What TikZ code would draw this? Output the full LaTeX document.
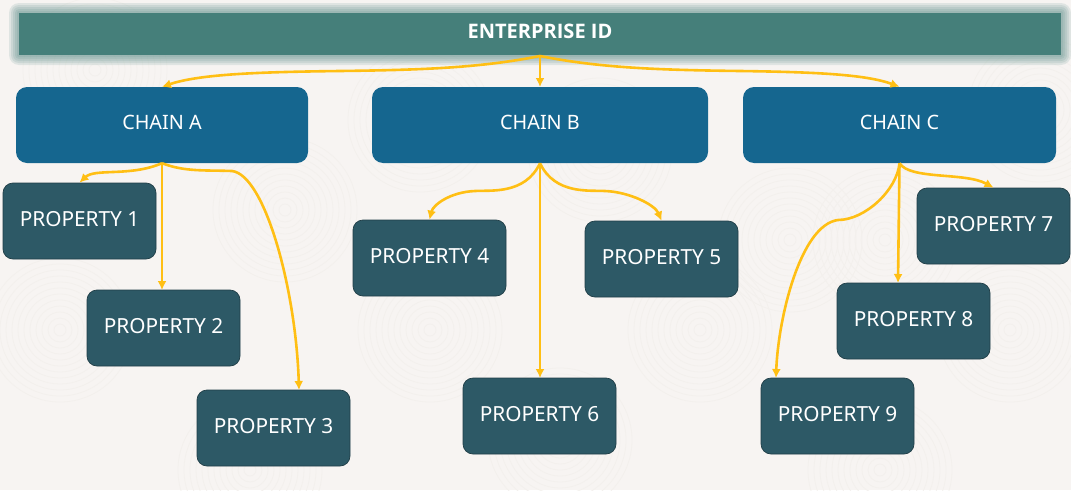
\documentclass[tikz,border=0pt]{standalone}
\usepackage{fontspec}
\setmainfont{Noto Sans}
\newfontfamily\barfont{Open Sans}
\usetikzlibrary{arrows.meta}
\definecolor{paper}{HTML}{F7F4F2}
\definecolor{swirl}{HTML}{F3F0ED}
\definecolor{bar}{HTML}{457F7A}
\definecolor{chain}{HTML}{15668F}
\definecolor{prop}{HTML}{2D5966}
\definecolor{link}{HTML}{FFBF14}
\tikzset{
    barbox/.style={fill=bar, text=white, font=\barfont\bfseries\fontsize{20}{22}\selectfont, minimum width=1042pt, minimum height=42pt, inner sep=0pt, text height=14pt, text depth=5pt},
    chainbox/.style={fill=chain, text=white, rounded corners=11pt, font=\fontsize{19.8}{22}\selectfont, minimum height=76pt, inner sep=0pt, text height=14pt, text depth=5pt},
    propbox/.style={fill=prop, draw=prop!70!black, line width=0.7pt, text=white, rounded corners=10pt, font=\fontsize{20.8}{22}\selectfont, minimum width=153pt, minimum height=76pt, inner sep=0pt, text height=14pt, text depth=3.4pt},
    linkline/.style={draw=link, line width=2.6pt, -{Latex[length=9pt,width=9pt]}},
}
\begin{document}
\begin{tikzpicture}[x=1pt,y=-1pt]
    \useasboundingbox (0,0) rectangle (1071,490);
    \fill[paper] (0,0) rectangle (1071,490);
    \begin{scope}
        \clip (0,0) rectangle (1071,490);
        \foreach \cx/\cy in {95/70,285/210,60/330,250/470,430/330,600/150,560/440,700/330,790/240,885/240,1010/330,1040/110,880/470,420/120}
            \foreach \r in {6,12,...,72}
                \draw[swirl, line width=0.8pt] (\cx,\cy) circle (\r);
    \end{scope}
    % glow behind the top bar
    \foreach \g in {10,8,6,4,2}
        \fill[bar, opacity=0.13, rounded corners=\g pt] (19-\g,13-\g) rectangle (1061+\g,55+\g);

    \node[barbox] (enterprise) at (540,34) {ENTERPRISE ID};

    \node[chainbox, minimum width=292pt] (chainA) at (162,125) {CHAIN A};
    \node[chainbox, minimum width=336pt] (chainB) at (540,125) {CHAIN B};
    \node[chainbox, minimum width=313pt] (chainC) at (899.5,125) {CHAIN C};

    \node[propbox] (prop1) at (79.5,221) {PROPERTY 1};
    \node[propbox] (prop2) at (163.5,328) {PROPERTY 2};
    \node[propbox] (prop3) at (273.5,428) {PROPERTY 3};
    \node[propbox] (prop4) at (429.5,258) {PROPERTY 4};
    \node[propbox] (prop5) at (661.5,259) {PROPERTY 5};
    \node[propbox] (prop6) at (539.5,416) {PROPERTY 6};
    \node[propbox] (prop7) at (993.5,226) {PROPERTY 7};
    \node[propbox] (prop8) at (913.5,321) {PROPERTY 8};
    \node[propbox] (prop9) at (837.5,416) {PROPERTY 9};

    % free ends of the links that miss the middle of a box
    \coordinate (top) at (540,56);
    \coordinate (endB) at (540,87);
    \coordinate (end2) at (162,290);
    \coordinate (end3) at (299,390);
    \coordinate (end6) at (540,378);
    \coordinate (end8) at (898,283);
    \coordinate (end9) at (776,378);

    \draw[linkline] (top) .. controls (480,68) and (420,70) .. (340,71) .. controls (260,72) and (200,74) .. (chainA.north);
    \draw[linkline] (top) -- (endB);
    \draw[linkline] (top) .. controls (600,68) and (660,70) .. (740,71) .. controls (810,72) and (865,74) .. (chainC.north);

    \draw[linkline] (chainA.south) .. controls (130,177) and (95,168) .. (prop1.north);
    \draw[linkline] (chainA.south) -- (end2);
    \draw[linkline] (chainA.south) .. controls (185,172) and (205,170) .. (232,171) .. controls (265,175) and (296,290) .. (end3);

    \draw[linkline] (chainB.south) .. controls (525,195) and (490,190) .. (475,191) .. controls (450,192) and (433,205) .. (prop4.north);
    \draw[linkline] (chainB.south) -- (end6);
    \draw[linkline] (chainB.south) .. controls (555,195) and (590,190) .. (605,191) .. controls (630,192) and (655,205) .. (prop5.north);

    \draw[linkline] (chainC.south) .. controls (910,180) and (965,172) .. (prop7.north);
    \draw[linkline] (chainC.south) -- (end8);
    \draw[linkline] (chainC.south) .. controls (897,190) and (865,220) .. (838,220) .. controls (800,225) and (778,320) .. (end9);
\end{tikzpicture}
\end{document}
